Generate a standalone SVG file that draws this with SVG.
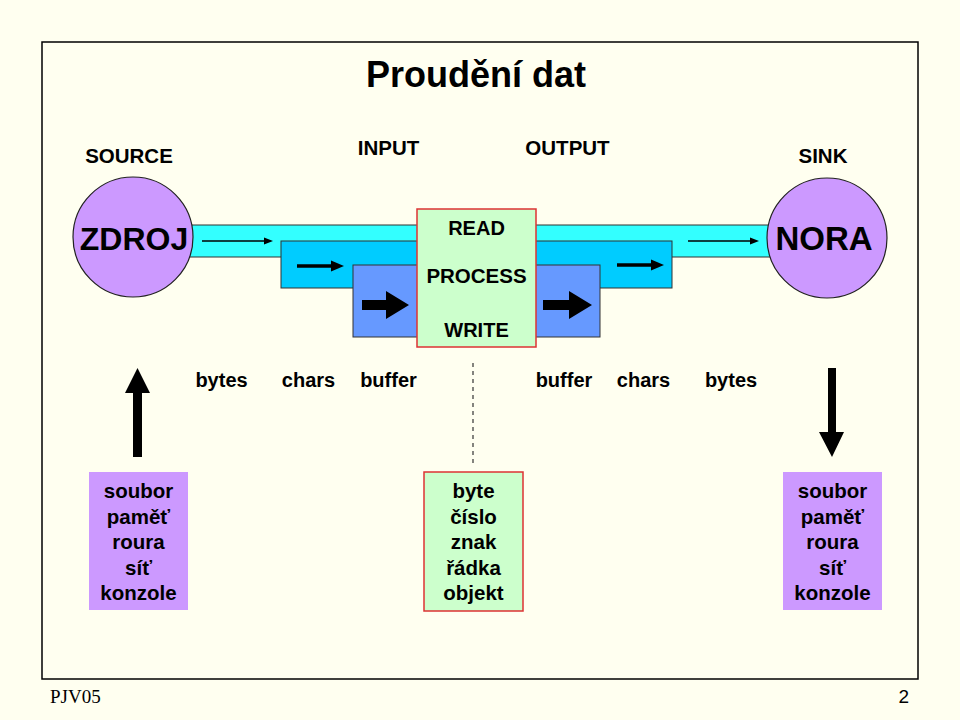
<svg xmlns="http://www.w3.org/2000/svg" width="960" height="720" viewBox="0 0 960 720">
<style>
  text { font-family: "Liberation Sans", Arial, sans-serif; font-weight: bold; fill: #000; }
  .c { text-anchor: middle; }
  .band { stroke: #333; stroke-width: 1; }
  .circ { fill: #CC99FF; stroke: #222; stroke-width: 1.2; }
  .purple { fill: #CC99FF; }
  .green { fill: #CCFFCC; stroke: #DD3333; stroke-width: 1.5; }
  .arr { fill: #000; }
</style>
<rect x="0" y="0" width="960" height="720" fill="#FFFFF0"/>
<rect x="42" y="42" width="876" height="637" fill="none" stroke="#000" stroke-width="1.5"/>

<text class="c" x="476" y="87" font-size="36">Proudění dat</text>
<text class="c" x="129" y="163" font-size="20.5">SOURCE</text>
<text class="c" x="388.5" y="155" font-size="20.5">INPUT</text>
<text class="c" x="567.5" y="155" font-size="20.5">OUTPUT</text>
<text class="c" x="823" y="163" font-size="20.5">SINK</text>

<g id="bands">
  <rect class="band" x="133" y="225" width="694" height="32" fill="#33FFFF"/>
  <rect class="band" x="281" y="241" width="391" height="47" fill="#00CCFF"/>
  <rect class="band" x="353" y="265" width="247" height="72" fill="#6699FF"/>
</g>

<g id="zdroj">
  <circle class="circ" cx="133" cy="237" r="60"/>
  <text class="c" x="134" y="250" font-size="32">ZDROJ</text>
</g>
<g id="nora">
  <circle class="circ" cx="827" cy="238" r="60"/>
  <text class="c" x="824" y="250" font-size="33">NORA</text>
</g>

<g id="process">
  <rect class="green" x="417" y="209" width="119" height="138"/>
  <text class="c" x="476.5" y="235" font-size="20">READ</text>
  <text class="c" x="476.5" y="283" font-size="20.5">PROCESS</text>
  <text class="c" x="476.5" y="337" font-size="20">WRITE</text>
</g>

<g id="connectors">
  <!-- thin arrows in cyan band -->
  <line x1="202" y1="241" x2="265" y2="241" stroke="#000" stroke-width="1.6"/>
  <polygon class="arr" points="273,241 264,237.5 264,244.5"/>
  <line x1="688" y1="241" x2="751" y2="241" stroke="#000" stroke-width="1.6"/>
  <polygon class="arr" points="759,241 750,237.5 750,244.5"/>
  <!-- medium arrows -->
  <line x1="297" y1="266" x2="333" y2="266" stroke="#000" stroke-width="3.5"/>
  <polygon class="arr" points="344,266 331,260.5 331,271.5"/>
  <line x1="617" y1="265" x2="652" y2="265" stroke="#000" stroke-width="3.5"/>
  <polygon class="arr" points="664,265 651,259.5 651,270.5"/>
  <!-- thick block arrows -->
  <polygon class="arr" points="362,300 386,300 386,291 409,305 386,319 386,310 362,310"/>
  <polygon class="arr" points="543,300 569,300 569,291 592,305 569,319 569,310 543,310"/>
  <!-- dashed divider -->
  <line x1="473" y1="363" x2="473" y2="466" stroke="#333" stroke-width="1.2" stroke-dasharray="4,4"/>
  <!-- up arrow -->
  <polygon class="arr" points="133,457 142,457 142,393 150,393 137.5,368 125,393 133,393"/>
  <!-- down arrow -->
  <polygon class="arr" points="828,368 836,368 836,432 844,432 832,457 819,432 828,432"/>
</g>

<g id="labels">
  <text class="c" x="221.5" y="387" font-size="20">bytes</text>
  <text class="c" x="308.5" y="387" font-size="20">chars</text>
  <text class="c" x="388.5" y="387" font-size="20">buffer</text>
  <text class="c" x="564" y="387" font-size="20">buffer</text>
  <text class="c" x="643.5" y="387" font-size="20">chars</text>
  <text class="c" x="731" y="387" font-size="20">bytes</text>
</g>

<g id="source-list">
  <rect class="purple" x="89" y="472" width="99" height="138"/>
  <text class="c" x="138.5" y="498" font-size="20.5">soubor</text>
  <text class="c" x="138.5" y="523.5" font-size="20.5">paměť</text>
  <text class="c" x="138.5" y="549" font-size="20.5">roura</text>
  <text class="c" x="138.5" y="574.5" font-size="20.5">síť</text>
  <text class="c" x="138.5" y="600" font-size="20.5">konzole</text>
</g>

<g id="data-list">
  <rect class="green" x="424" y="472" width="99" height="139"/>
  <text class="c" x="473.5" y="498" font-size="20.5">byte</text>
  <text class="c" x="473.5" y="523.5" font-size="20.5">číslo</text>
  <text class="c" x="473.5" y="549" font-size="20.5">znak</text>
  <text class="c" x="473.5" y="574.5" font-size="20.5">řádka</text>
  <text class="c" x="473.5" y="600" font-size="20.5">objekt</text>
</g>

<g id="sink-list">
  <rect class="purple" x="783" y="472" width="99" height="138"/>
  <text class="c" x="832.5" y="498" font-size="20.5">soubor</text>
  <text class="c" x="832.5" y="523.5" font-size="20.5">paměť</text>
  <text class="c" x="832.5" y="549" font-size="20.5">roura</text>
  <text class="c" x="832.5" y="574.5" font-size="20.5">síť</text>
  <text class="c" x="832.5" y="600" font-size="20.5">konzole</text>
</g>

<text x="50" y="703" font-size="19" style="font-family:'Liberation Serif','Times New Roman',serif;font-weight:normal">PJV05</text>
<text x="909" y="703" font-size="19" text-anchor="end" style="font-weight:normal">2</text>
</svg>
